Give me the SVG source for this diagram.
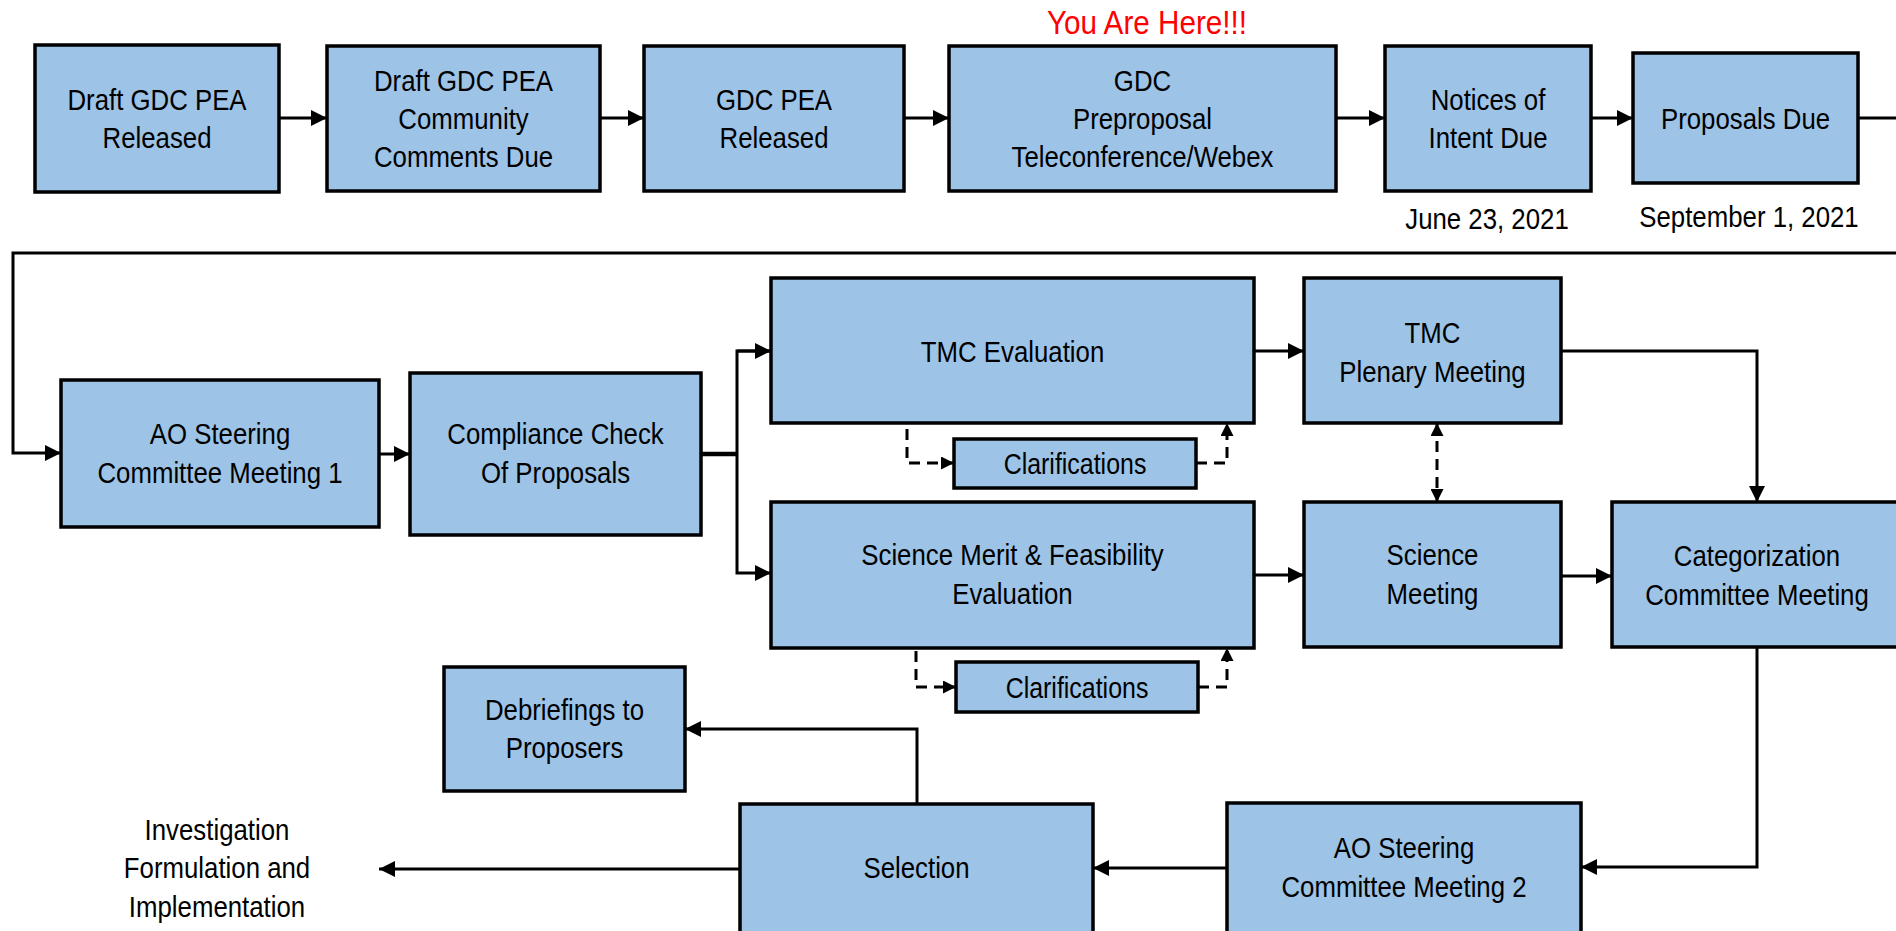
<svg xmlns="http://www.w3.org/2000/svg" width="1896" height="931" viewBox="0 0 1896 931">
<style>
.box{fill:#9DC3E6;stroke:#000;stroke-width:3.5}
.t{font-family:"Liberation Sans",Arial,sans-serif;font-size:30px;fill:#000;text-anchor:middle}
.c{font-size:29px}
.red{font-size:33px;fill:#FF0000}
.ln{fill:none;stroke:#000;stroke-width:3}
.ds{fill:none;stroke:#000;stroke-width:3;stroke-dasharray:11 7}
</style>
<defs>
<marker id="ah" markerUnits="userSpaceOnUse" markerWidth="16" markerHeight="16" refX="14" refY="7" orient="auto-start-reverse" viewBox="0 0 14 14">
<path d="M0,0 L14,7 L0,14 z" fill="#000"/>
</marker>
<marker id="ahs" markerUnits="userSpaceOnUse" markerWidth="13" markerHeight="13" refX="12" refY="6" orient="auto-start-reverse" viewBox="0 0 12 12">
<path d="M0,0 L12,6 L0,12 z" fill="#000"/>
</marker>
</defs>
<rect width="1896" height="931" fill="#fff"/>

<g id="connectors">
<path class="ln" d="M279,118 H327" marker-end="url(#ah)"/>
<path class="ln" d="M600,118 H644" marker-end="url(#ah)"/>
<path class="ln" d="M904,118 H949" marker-end="url(#ah)"/>
<path class="ln" d="M1336,118 H1385" marker-end="url(#ah)"/>
<path class="ln" d="M1591,118 H1633" marker-end="url(#ah)"/>
<path class="ln" d="M1858,118 H1900"/>
<path class="ln" d="M1900,253 H13 V453 H61" marker-end="url(#ah)"/>
<path class="ln" d="M379,454 H410" marker-end="url(#ah)"/>
<path class="ln" d="M701,454 H737" style="stroke-width:4.5"/>
<path class="ln" d="M771,351 H737 V573 H771" marker-end="url(#ah)"/>
<path class="ln" d="M737,351 H771" marker-end="url(#ah)"/>
<path class="ln" d="M1254,351 H1304" marker-end="url(#ah)"/>
<path class="ln" d="M1254,575 H1304" marker-end="url(#ah)"/>
<path class="ln" d="M1561,576 H1612" marker-end="url(#ah)"/>
<path class="ln" d="M1561,351 H1757 V502" marker-end="url(#ah)"/>
<path class="ds" d="M1437,423 V502" marker-start="url(#ahs)" marker-end="url(#ahs)"/>
<path class="ln" d="M1757,647 V867 H1581" marker-end="url(#ah)"/>
<path class="ln" d="M1227,868 H1093" marker-end="url(#ah)"/>
<path class="ln" d="M740,869 H379" marker-end="url(#ah)"/>
<path class="ln" d="M917,804 V729 H685" marker-end="url(#ah)"/>
<path class="ds" d="M907,429 V463 H954" marker-end="url(#ahs)"/>
<path class="ds" d="M1196,463 H1227 V423" marker-end="url(#ahs)"/>
<path class="ds" d="M916,651 V687 H956" marker-end="url(#ahs)"/>
<path class="ds" d="M1198,687 H1227 V648" marker-end="url(#ahs)"/>
</g>

<g id="n1"><rect class="box" x="35" y="45" width="244" height="147"/>
<text class="t" transform="translate(157 110) scale(0.86 1)"><tspan x="0">Draft GDC PEA</tspan><tspan x="0" dy="38">Released</tspan></text></g>

<g id="n2"><rect class="box" x="327" y="46" width="273" height="145"/>
<text class="t" transform="translate(463.5 91) scale(0.86 1)"><tspan x="0">Draft GDC PEA</tspan><tspan x="0" dy="38">Community</tspan><tspan x="0" dy="38">Comments Due</tspan></text></g>

<g id="n3"><rect class="box" x="644" y="46" width="260" height="145"/>
<text class="t" transform="translate(774 110) scale(0.86 1)"><tspan x="0">GDC PEA</tspan><tspan x="0" dy="38">Released</tspan></text></g>

<g id="n4"><rect class="box" x="949" y="46" width="387" height="145"/>
<text class="t" transform="translate(1142.5 91) scale(0.86 1)"><tspan x="0">GDC</tspan><tspan x="0" dy="38">Preproposal</tspan><tspan x="0" dy="38">Teleconference/Webex</tspan></text></g>

<g id="here"><text class="t red" transform="translate(1147 34) scale(0.9 1)">You Are Here!!!</text></g>

<g id="n5"><rect class="box" x="1385" y="46" width="206" height="145"/>
<text class="t" transform="translate(1488 110) scale(0.86 1)"><tspan x="0">Notices of</tspan><tspan x="0" dy="38">Intent Due</tspan></text></g>

<g id="n6"><rect class="box" x="1633" y="53" width="225" height="130"/>
<text class="t" transform="translate(1745.5 129) scale(0.86 1)">Proposals Due</text></g>

<g id="dates">
<text class="t" transform="translate(1487 229) scale(0.86 1)">June 23, 2021</text>
<text class="t" transform="translate(1749 227) scale(0.86 1)">September 1, 2021</text>
</g>

<g id="n7"><rect class="box" x="61" y="380" width="318" height="147"/>
<text class="t" transform="translate(220 444) scale(0.86 1)"><tspan x="0">AO Steering</tspan><tspan x="0" dy="39">Committee Meeting 1</tspan></text></g>

<g id="n8"><rect class="box" x="410" y="373" width="291" height="162"/>
<text class="t" transform="translate(555.5 444) scale(0.86 1)"><tspan x="0">Compliance Check</tspan><tspan x="0" dy="39">Of Proposals</tspan></text></g>

<g id="n9"><rect class="box" x="771" y="278" width="483" height="145"/>
<text class="t" transform="translate(1012.5 362) scale(0.86 1)">TMC Evaluation</text></g>

<g id="n10"><rect class="box" x="954" y="439" width="242" height="49"/>
<text class="t c" transform="translate(1075 474) scale(0.86 1)">Clarifications</text></g>

<g id="n11"><rect class="box" x="1304" y="278" width="257" height="145"/>
<text class="t" transform="translate(1432.5 343) scale(0.86 1)"><tspan x="0">TMC</tspan><tspan x="0" dy="39">Plenary Meeting</tspan></text></g>

<g id="n12"><rect class="box" x="771" y="502" width="483" height="146"/>
<text class="t" transform="translate(1012.5 565) scale(0.86 1)"><tspan x="0">Science Merit &amp; Feasibility</tspan><tspan x="0" dy="39">Evaluation</tspan></text></g>

<g id="n13"><rect class="box" x="956" y="662" width="242" height="50"/>
<text class="t c" transform="translate(1077 698) scale(0.86 1)">Clarifications</text></g>

<g id="n14"><rect class="box" x="1304" y="502" width="257" height="145"/>
<text class="t" transform="translate(1432.5 565) scale(0.86 1)"><tspan x="0">Science</tspan><tspan x="0" dy="39">Meeting</tspan></text></g>

<g id="n15"><rect class="box" x="1612" y="502" width="292" height="145"/>
<text class="t" transform="translate(1757 566) scale(0.86 1)"><tspan x="0">Categorization</tspan><tspan x="0" dy="39">Committee Meeting</tspan></text></g>

<g id="n16"><rect class="box" x="444" y="667" width="241" height="124"/>
<text class="t" transform="translate(564.5 720) scale(0.86 1)"><tspan x="0">Debriefings to</tspan><tspan x="0" dy="38">Proposers</tspan></text></g>

<g id="n17"><rect class="box" x="740" y="804" width="353" height="140"/>
<text class="t" transform="translate(916.5 878) scale(0.86 1)">Selection</text></g>

<g id="n18"><rect class="box" x="1227" y="803" width="354" height="140"/>
<text class="t" transform="translate(1404 858) scale(0.86 1)"><tspan x="0">AO Steering</tspan><tspan x="0" dy="39">Committee Meeting 2</tspan></text></g>

<g id="investigation">
<text class="t" transform="translate(217 840) scale(0.86 1)"><tspan x="0">Investigation</tspan><tspan x="0" dy="38.5">Formulation and</tspan><tspan x="0" dy="38.5">Implementation</tspan></text>
</g>
</svg>
